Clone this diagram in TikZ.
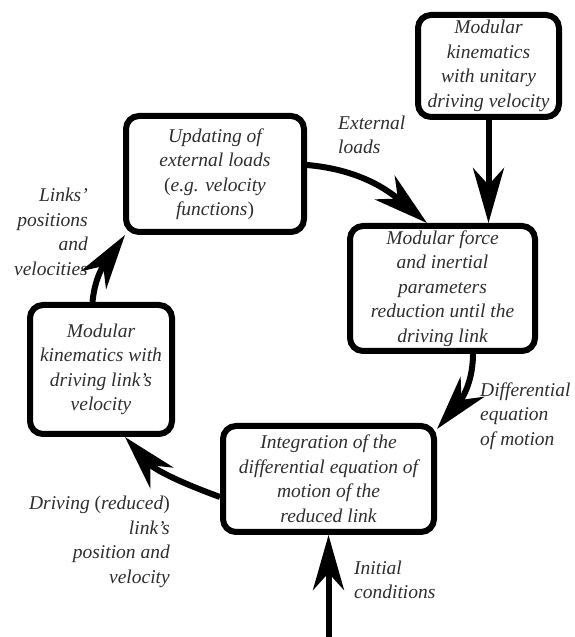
\documentclass[tikz,border=0pt]{standalone}
\usepackage{fontspec}
\setmainfont{Liberation Serif}
\usetikzlibrary{arrows.meta}
\definecolor{textgray}{gray}{0.18}
\begin{document}
\begin{tikzpicture}[x=1pt,y=1pt,
  box/.style={draw=black, line width=6pt, rounded corners=13pt, align=center,
    font=\itshape\fontsize{19.5}{24.5}\selectfont, text=textgray, inner sep=0pt},
  lbl/.style={font=\itshape\fontsize{19.5}{24.5}\selectfont, text=textgray, inner sep=0pt},
  flow/.style={line width=6pt, -{Stealth[length=55pt,width=31pt,inset=17pt]}}
]
\useasboundingbox (0,0) rectangle (574,637);
\node[box, minimum width=141pt, minimum height=102pt] (TR) at (488.5,571)
  {Modular\\kinematics\\with unitary\\driving velocity};
\node[box, minimum width=178pt, minimum height=116pt] (UPD) at (215,463)
  {Updating of\\external loads\\\textup{(}e.g. velocity\\functions\textup{)}};
\node[box, minimum width=185pt, minimum height=125pt] (MF) at (442.5,348.5)
  {Modular force\\and inertial\\parameters\\reduction until the\\driving link};
\node[box, minimum width=142pt, minimum height=129pt] (LK) at (101,267.5)
  {Modular\\kinematics with\\driving link's\\velocity};
\node[box, minimum width=211pt, minimum height=106pt] (INT) at (328.5,158)
  {Integration of the\\differential equation of\\motion of the\\reduced link};
\coordinate (ICs) at (328.5,0);

\draw[flow] (TR.south) -- (TR.south |- MF.north);
\draw[flow] ([yshift=9pt]UPD.east) to[out=-5,in=140] ([xshift=-15.5pt]MF.north);
\draw[flow] ([xshift=30.5pt]MF.south) to[out=-90,in=50] ([yshift=-6pt]INT.north east);
\draw[flow] ([yshift=-18pt]INT.west) to[out=160,in=-48] ([xshift=24pt]LK.south);
\draw[flow] ([xshift=-8.5pt]LK.north) to[out=85,in=235] ([xshift=2pt]UPD.south west);
\draw[flow] (ICs) -- (INT.south);

\node[lbl, anchor=west, align=left] (lEL) at (338,502) {External\\loads};
\node[lbl, anchor=east, align=right] (lLP) at (88,405) {Links'\\positions\\and\\velocities};
\node[lbl, anchor=west, align=left] (lDE) at (480,221) {Differential\\equation\\of motion};
\node[lbl, anchor=east, align=right] (lDR) at (170,95) {Driving \textup{(}reduced\textup{)}\\link's\\position and\\velocity};
\node[lbl, anchor=west, align=left] (lIC) at (354,57) {Initial\\conditions};
\end{tikzpicture}
\end{document}
